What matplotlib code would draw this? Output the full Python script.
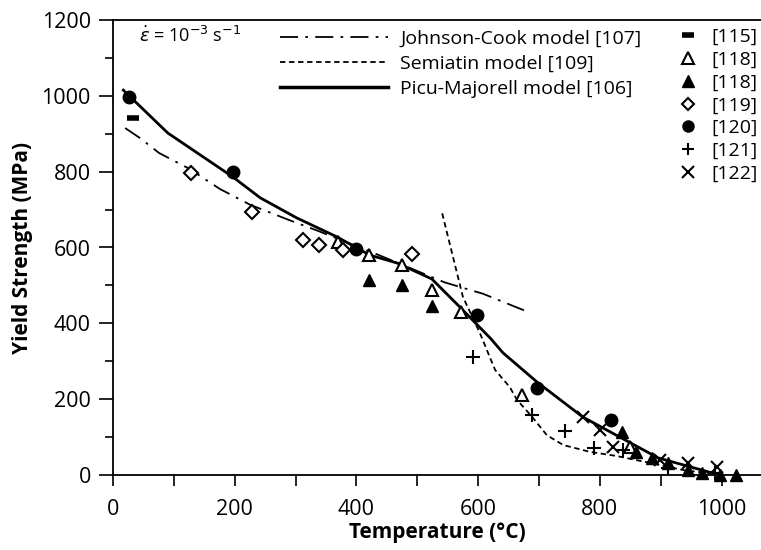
import matplotlib
matplotlib.use("Agg")
import matplotlib.pyplot as plt
from matplotlib.lines import Line2D
from matplotlib.ticker import MultipleLocator

plt.rcParams['font.family'] = ['Open Sans', 'DejaVu Sans']

# ---- model curves ----
jc_T = [20, 44, 76, 125, 175, 225, 290, 335, 440, 545, 608, 682]
jc_S = [915, 889, 849, 808, 755, 713, 672, 645, 578, 508, 478, 430]

sem_T = [541, 575, 603, 628, 652, 664, 689, 713, 740, 784, 828, 882, 940, 990]
sem_S = [690, 470, 374, 277, 232, 198, 153, 105, 79, 61, 50, 32, 12, 3]

pm_T = [17, 90, 197, 242, 302, 368, 422, 467, 524, 570, 620, 641, 697, 772, 896, 990]
pm_S = [1015, 902, 786, 731, 678, 628, 580, 559, 517, 443, 361, 322, 245, 153, 45, 3]

# ---- experimental data ----
r115_T = [33]
r115_S = [942]
r118o_T = [370, 421, 475, 524, 572, 672, 850]
r118o_S = [614, 580, 554, 488, 430, 211, 75]
r118f_T = [421, 475, 524, 836, 859, 885, 912, 945, 968, 998, 1024]
r118f_S = [514, 501, 446, 113, 61, 45, 32, 13, 5, 0, 0]
r119_T = [128, 228, 313, 339, 378, 491]
r119_S = [797, 693, 620, 607, 593, 583]
r120_T = [26, 197, 399, 598, 697, 818]
r120_S = [997, 800, 597, 422, 229, 145]
r121_T = [592, 688, 743, 790, 838, 912, 989]
r121_S = [311, 158, 116, 71, 66, 18, 5]
r122_T = [772, 800, 822, 899, 945, 992]
r122_S = [153, 118, 74, 40, 32, 21]

W, H = 761, 550
fig = plt.figure(figsize=(W / 100, H / 100), dpi=100)
ax = fig.add_axes([113 / W, 75 / H, (W - 113) / W, 455 / H])

ax.plot(jc_T, jc_S, color='black', lw=1.3, dashes=(10, 4, 1.5, 4))
ax.plot(sem_T, sem_S, color='black', lw=1.3, dashes=(3, 2))
ax.plot(pm_T, pm_S, color='black', lw=2.0)

ms = dict(ls='none', color='black', clip_on=False)
ax.plot(r115_T, r115_S, marker='_', markersize=8, mew=4, **ms)
ax.plot(r118o_T, r118o_S, marker='^', markersize=9, mfc='white', mec='black', mew=1.5, **ms)
ax.plot(r118f_T, r118f_S, marker='^', markersize=9, **ms)
ax.plot(r119_T, r119_S, marker='D', markersize=7.5, mfc='white', mec='black', mew=1.5, **ms)
ax.plot(r120_T, r120_S, marker='o', markersize=9, **ms)
ax.plot(r121_T, r121_S, marker='+', markersize=10, mew=1.5, **ms)
ax.plot(r122_T, r122_S, marker='x', markersize=9, mew=1.5, **ms)

ax.set_xlim(0, (W - 113) / 0.6085)
ax.set_ylim(0, 1200)
ax.xaxis.set_major_locator(MultipleLocator(200))
ax.xaxis.set_minor_locator(MultipleLocator(100))
ax.yaxis.set_major_locator(MultipleLocator(200))
ax.yaxis.set_minor_locator(MultipleLocator(100))
ax.tick_params(which='both', direction='out', width=1.2, labelsize=15.5)
ax.tick_params(axis='y', which='major', length=10, pad=6)
ax.tick_params(axis='y', which='minor', length=6)
ax.tick_params(axis='x', which='both', length=8, pad=9)
for s in ['left', 'bottom', 'top']:
    ax.spines[s].set_linewidth(1.3)
ax.spines['right'].set_visible(False)

ax.set_xlabel('Temperature (°C)', fontsize=15, fontweight='bold', labelpad=2)
ax.set_ylabel('Yield Strength (MPa)', fontsize=15, fontweight='bold', labelpad=6)

ax.text(0.04, 0.965, r'$\dot{\varepsilon}$ = 10$^{-3}$ s$^{-1}$', transform=ax.transAxes,
        fontsize=13, va='center', ha='left')

line_handles = [Line2D([], [], color='black', lw=1.3, dashes=(10, 4, 1.5, 4)),
                Line2D([], [], color='black', lw=1.3, dashes=(3, 2)),
                Line2D([], [], color='black', lw=2.5)]
leg1 = ax.legend(line_handles,
                 ['Johnson-Cook model [107]', 'Semiatin model [109]', 'Picu-Majorell model [106]'],
                 loc='upper left', bbox_to_anchor=(0.245, 0.995), frameon=False, fontsize=14,
                 handlelength=5.6, handletextpad=0.6, labelspacing=0.35, borderaxespad=0)
ax.add_artist(leg1)

mk_handles = [Line2D([], [], ls='none', marker='_', markersize=8, mew=4, color='black'),
              Line2D([], [], ls='none', marker='^', markersize=8, mfc='white', mec='black', mew=1.5),
              Line2D([], [], ls='none', marker='^', markersize=8, color='black'),
              Line2D([], [], ls='none', marker='D', markersize=6.5, mfc='white', mec='black', mew=1.5),
              Line2D([], [], ls='none', marker='o', markersize=8, color='black'),
              Line2D([], [], ls='none', marker='+', markersize=9, mew=1.5, color='black'),
              Line2D([], [], ls='none', marker='x', markersize=8, mew=1.5, color='black')]
ax.legend(mk_handles, ['[115]', '[118]', '[118]', '[119]', '[120]', '[121]', '[122]'],
          loc='upper left', bbox_to_anchor=(0.86, 1.0), frameon=False, fontsize=14,
          handlelength=1.0, handletextpad=0.7, labelspacing=0.25, borderaxespad=0)

fig.savefig('out.png', dpi=100)
